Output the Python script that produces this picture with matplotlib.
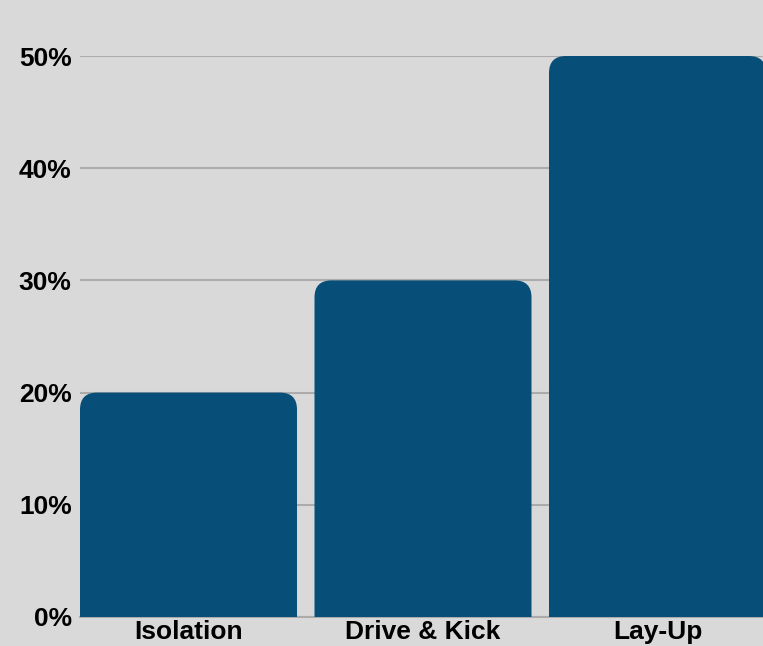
import matplotlib.pyplot as plt
from matplotlib.patches import FancyBboxPatch
from matplotlib.ticker import FuncFormatter

categories = ['Isolation', 'Drive & Kick', 'Lay-Up']
values = [20, 30, 50]
y_ticks = [0, 10, 20, 30, 40, 50]

bg = '#d9d9d9'
bar_color = '#074f79'

plt.rcParams['font.family'] = ['Liberation Sans', 'DejaVu Sans']

fig = plt.figure(figsize=(7.63, 6.46), dpi=100, facecolor=bg)
W, H = 763, 646
half = 0.4627
x_left = -half
x_right = 2.5
px_per_cat = 234.5
ax_w = px_per_cat * (x_right - x_left)
ax = fig.add_axes([80 / W, (646 - 617) / H, ax_w / W, (617 - 56) / H])
ax.set_facecolor(bg)
ax.set_xlim(x_left, x_right)
ax.set_ylim(0, 50)

# rounded top corners: box is drawn past 0 and clipped by the axes
px_per_y = (617 - 56) / 50
r_px = 17
aspect = px_per_cat / px_per_y
for i, v in enumerate(values):
    rx = r_px / px_per_cat
    ry = r_px / px_per_y
    patch = FancyBboxPatch((i - half, -ry * 2), 2 * half, v + ry * 2,
                           boxstyle=f'round,pad=0,rounding_size={rx}',
                           mutation_aspect=aspect,
                           facecolor=bar_color, edgecolor='none', zorder=3)
    ax.add_patch(patch)

ax.set_yticks(y_ticks)
ax.yaxis.set_major_formatter(FuncFormatter(lambda v, p: f'{int(v)}%'))
ax.grid(axis='y', color='#ababab', linewidth=1.5, zorder=0)
ax.set_xticks(range(len(categories)))
ax.set_xticklabels(categories)
for lbl in ax.get_xticklabels() + ax.get_yticklabels():
    lbl.set_fontweight('bold')
    lbl.set_fontsize(19)
ax.tick_params(axis='both', length=0)
ax.tick_params(axis='y', pad=6)
ax.tick_params(axis='x', pad=2)
for s in ['top', 'right', 'left']:
    ax.spines[s].set_visible(False)
ax.spines['bottom'].set_color('#ababab')
ax.spines['bottom'].set_linewidth(1.5)

fig.savefig('out.png', dpi=100, facecolor=bg)
